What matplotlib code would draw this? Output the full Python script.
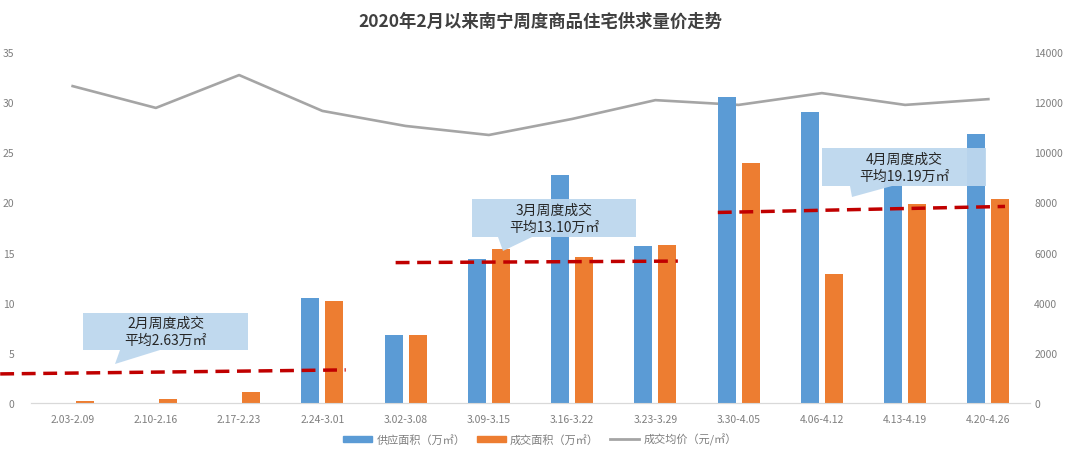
import matplotlib.pyplot as plt
from matplotlib.patches import Polygon, Patch
from matplotlib.lines import Line2D

plt.rcParams['font.family'] = ['Noto Sans CJK SC', 'DejaVu Sans']

# Data
weeks = ['2.03-2.09', '2.10-2.16', '2.17-2.23', '2.24-3.01', '3.02-3.08', '3.09-3.15',
         '3.16-3.22', '3.23-3.29', '3.30-4.05', '4.06-4.12', '4.13-4.19', '4.20-4.26']
supply = [0, 0, 0, 10.5, 6.8, 14.4, 22.7, 15.7, 30.5, 29.0, 23.0, 26.8]
deal = [0.2, 0.4, 1.1, 10.2, 6.8, 15.4, 14.6, 15.8, 23.9, 12.9, 19.8, 20.3]
price = [12640, 11770, 13080, 11650, 11050, 10690, 11330, 12080, 11890, 12360, 11890, 12120]

# monthly average trend lines: (x start, x end), (y start, y end)
feb_x, feb_y = [-0.87, 3.28], [2.9, 3.3]
mar_x, mar_y = [3.88, 7.27], [14.0, 14.15]
apr_x, apr_y = [7.75, 11.2], [19.0, 19.6]

notes = ['2月周度成交\n平均2.63万㎡', '3月周度成交\n平均13.10万㎡', '4月周度成交\n平均19.19万㎡']

W, H = 1080, 460
fig = plt.figure(figsize=(10.8, 4.6), dpi=100)
ax = fig.add_axes([31 / W, 1 - 404 / H, (1030 - 31) / W, (404 - 53) / H])
ax2 = ax.twinx()

x = list(range(len(weeks)))
bw = 0.215
off = 0.145
ax.bar([i - off for i in x], supply, width=bw, color='#5b9bd5', zorder=2)
ax.bar([i + off for i in x], deal, width=bw, color='#ed7d31', zorder=2)

ax2.plot(x, price, color='#a5a5a5', lw=1.9)

for xs, ys in [(feb_x, feb_y), (mar_x, mar_y), (apr_x, apr_y)]:
    ax.plot(xs, ys, color='#c00000', lw=2.5, ls=(0, (4, 2.2)), zorder=4, clip_on=False)

ax.set_xlim(-0.5, 11.5)
ax.set_ylim(0, 35)
ax2.set_ylim(0, 14000)
ax.set_yticks(range(0, 36, 5))
ax2.set_yticks(range(0, 14001, 2000))
ax.set_xticks(x)
ax.set_xticklabels(weeks)
for a in (ax, ax2):
    for s in ['top', 'left', 'right']:
        a.spines[s].set_visible(False)
    a.spines['bottom'].set_color('#d9d9d9')
    a.tick_params(length=0, labelsize=7.5, colors='#7f7f7f')
ax.tick_params(axis='x', pad=8)
ax.tick_params(axis='y', pad=12)
ax2.tick_params(axis='y', pad=3)
ax.set_zorder(ax2.get_zorder() + 1)
ax.patch.set_visible(False)


# callout bubbles in figure pixel coords (from top-left)
def bubble(x0, y0, x1, y1, tail, text):
    pts = [(x0, y0), (x1, y0), (x1, y1), (tail[2], y1), (tail[1], tail[3]), (tail[0], y1), (x0, y1)]
    pts = [(px / W, 1 - py / H) for px, py in pts]
    fig.add_artist(Polygon(pts, closed=True, transform=fig.transFigure,
                           facecolor='#bdd7ee', edgecolor='none', alpha=0.95, zorder=5))
    fig.text((x0 + x1) / 2 / W, 1 - (y0 + y1) / 2 / H, text, ha='center', va='center',
             fontsize=10, color='#262626', linespacing=1.3, zorder=6)


bubble(83, 314, 248, 351, (120, 115, 160, 365), notes[0])
bubble(472, 200, 636, 238, (498, 503, 532, 252), notes[1])
bubble(822, 149, 986, 187, (850, 852, 892, 198), notes[2])

fig.text(0.5, 1 - 22 / H, '2020年2月以来南宁周度商品住宅供求量价走势', ha='center', va='center',
         fontsize=12.5, fontweight='bold', color='#404040')

handles = [Patch(color='#5b9bd5'), Patch(color='#ed7d31'), Line2D([], [], color='#a5a5a5', lw=2)]
labels = ['供应面积（万㎡）', '成交面积（万㎡）', '成交均价（元/㎡）']
fig.legend(handles, labels, loc='center', bbox_to_anchor=(0.5, 1 - 440 / H), ncol=3, frameon=False,
           fontsize=8, labelcolor='#7f7f7f', handlelength=2.6, handleheight=0.5,
           columnspacing=1.0, handletextpad=0.4)

fig.savefig('out.png', dpi=100)
